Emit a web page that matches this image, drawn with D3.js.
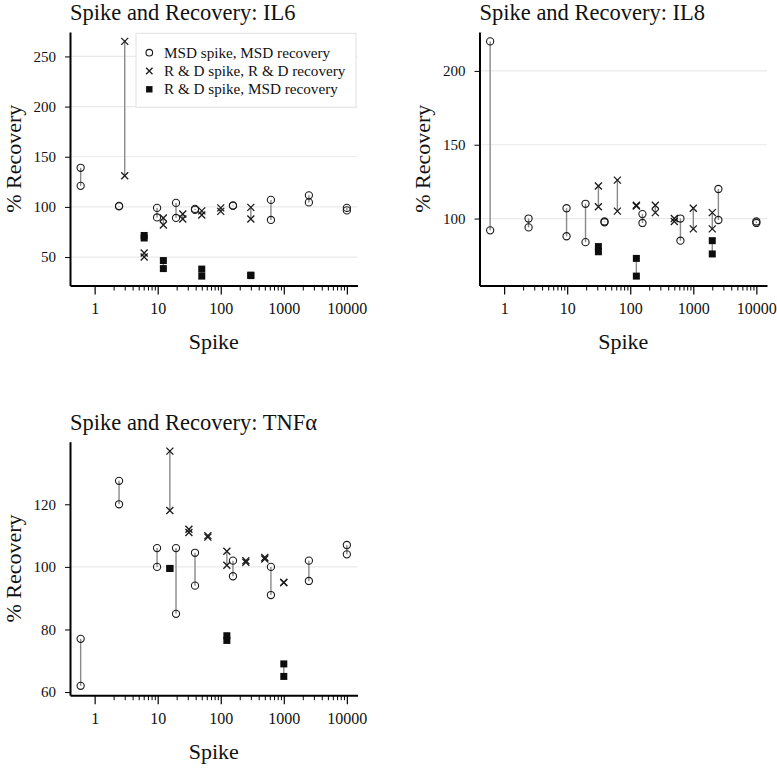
<!DOCTYPE html>
<html><head><meta charset="utf-8">
<script src="https://cdn.jsdelivr.net/npm/d3@7"></script>
<style>
body{margin:0;background:#fff}
svg text{font-family:"Liberation Serif","Times New Roman",Times,serif;fill:#111}
</style>
</head><body>
<svg id="chart" width="777" height="770"></svg>
<script>
// ---------- data ----------
const seriesNames = ["MSD spike, MSD recovery", "R & D spike, R & D recovery", "R & D spike, MSD recovery"];
const xTickValues = [1, 10, 100, 1000, 10000];
const xTickLabels = ["1", "10", "100", "1000", "10000"];

const il6MsdSpike = [0.6, 2.44, 9.77, 19.53, 39.06, 156.25, 625, 2500, 10000];
const il6MsdRep1  = [139, 101, 99, 104, 98, 101.5, 107, 111.5, 99];
const il6MsdRep2  = [121, 100.5, 89.5, 89, 97, 101, 87, 104.5, 96.5];
const il6RdSpike  = [3, 6.1, 12.3, 25, 50, 100, 300];
const il6RdRep1   = [265, 54, 89, 93, 96, 99, 99.5];
const il6RdRep2   = [131, 50, 82, 88, 92, 95.5, 88];
const il6MixSpike = [6.1, 12.3, 50, 300];
const il6MixRep1  = [71.5, 46.5, 38, 32];
const il6MixRep2  = [69, 38.5, 31, 31.5];
const il6YTicks   = [50, 100, 150, 200, 250];

const il8MsdSpike = [0.6, 2.44, 9.77, 19.53, 39.06, 156.25, 625, 2500, 10000];
const il8MsdRep1  = [220, 100, 107, 110, 98, 103, 100, 120, 98];
const il8MsdRep2  = [92, 94, 88, 84, 97.5, 97, 85, 99, 97];
const il8RdSpike  = [31.25, 62.5, 125, 250, 500, 1000, 2000];
const il8RdRep1   = [122, 126, 109, 109, 100, 107, 104];
const il8RdRep2   = [108, 105, 108.5, 104, 98, 93, 93];
const il8MixSpike = [31.25, 125, 2000];
const il8MixRep1  = [81, 73, 85];
const il8MixRep2  = [77.5, 61, 76];
const il8YTicks   = [100, 150, 200];

const tnfMsdSpike = [0.6, 2.44, 9.77, 19.53, 39.06, 156.25, 625, 2500, 10000];
const tnfMsdRep1  = [77, 127.5, 106, 106, 104.5, 102, 100, 102, 107];
const tnfMsdRep2  = [62, 120, 100, 85, 94, 97, 91, 95.5, 104];
const tnfRdSpike  = [15.6, 31.25, 62.5, 125, 250, 500, 1000];
const tnfRdRep1   = [137, 112, 110, 105, 102, 103, 95];
const tnfRdRep2   = [118, 111, 109.5, 100.5, 101.5, 102.5, 95];
const tnfMixSpike = [15.6, 125, 1000];
const tnfMixRep1  = [99.5, 78, 69];
const tnfMixRep2  = [99.5, 76.5, 65];
const tnfYTicks   = [60, 80, 100, 120];

// ---------- build ----------
const svg = d3.select("#chart");
const markerTypes = ["circle", "cross", "square"];

function makeSeries(spikes, r1, r2) {
  return spikes.map((s, i) => ({ spike: s, a: r1[i], b: r2[i] }));
}

const panels = [
  { title: "Spike and Recovery: IL6", left: 70, top: 32, titleY: 20, legend: true, yTicks: il6YTicks,
    series: [makeSeries(il6MsdSpike, il6MsdRep1, il6MsdRep2), makeSeries(il6RdSpike, il6RdRep1, il6RdRep2), makeSeries(il6MixSpike, il6MixRep1, il6MixRep2)] },
  { title: "Spike and Recovery: IL8", left: 479.5, top: 32, titleY: 20, legend: false, yTicks: il8YTicks,
    series: [makeSeries(il8MsdSpike, il8MsdRep1, il8MsdRep2), makeSeries(il8RdSpike, il8RdRep1, il8RdRep2), makeSeries(il8MixSpike, il8MixRep1, il8MixRep2)] },
  { title: "Spike and Recovery: TNF\u03b1", left: 70, top: 441.7, titleY: 430, legend: false, yTicks: tnfYTicks,
    series: [makeSeries(tnfMsdSpike, tnfMsdRep1, tnfMsdRep2), makeSeries(tnfRdSpike, tnfRdRep1, tnfRdRep2), makeSeries(tnfMixSpike, tnfMixRep1, tnfMixRep2)] }
];

const W = 287.5, H = 253.5;

// shared log x domain with 4% padding
const allSpikes = panels.flatMap(p => p.series.flat().map(d => d.spike));
const lx = d3.extent(allSpikes).map(Math.log10);
const padX = (lx[1] - lx[0]) * 0.04;
const xDomain = [Math.pow(10, lx[0] - padX), Math.pow(10, lx[1] + padX)];
const minorTicks = [];
[1, 10, 100, 1000].forEach(dec => { for (let k = 2; k <= 9; k++) minorTicks.push(dec * k); });

function drawMarker(g, type, cx, cy, s) {
  if (type === "circle") {
    g.append("circle").attr("cx", cx).attr("cy", cy).attr("r", s)
      .attr("fill", "none").attr("stroke", "#1a1a1a").attr("stroke-width", 1.1);
  } else if (type === "cross") {
    g.append("path").attr("d", `M${cx - s},${cy - s}L${cx + s},${cy + s}M${cx - s},${cy + s}L${cx + s},${cy - s}`)
      .attr("stroke", "#1a1a1a").attr("stroke-width", 1.3).attr("fill", "none");
  } else {
    g.append("rect").attr("x", cx - s).attr("y", cy - s).attr("width", 2 * s).attr("height", 2 * s)
      .attr("fill", "#0d0d0d");
  }
}

panels.forEach(p => {
  const g = svg.append("g").attr("transform", `translate(${p.left},${p.top})`);
  const vals = p.series.flat().flatMap(d => [d.a, d.b]);
  const ext = d3.extent(vals);
  const padY = (ext[1] - ext[0]) * 0.04;
  const x = d3.scaleLog().domain(xDomain).range([0, W]);
  const y = d3.scaleLinear().domain([ext[0] - padY, ext[1] + padY]).range([H, 0]);

  // grid at multiples of 50
  const gridVals = d3.range(Math.ceil(y.domain()[0] / 50) * 50, y.domain()[1], 50);
  g.selectAll(".grid").data(gridVals).enter().append("line")
    .attr("x1", 0).attr("x2", W).attr("y1", d => y(d)).attr("y2", d => y(d))
    .attr("stroke", "#e9e9e9").attr("stroke-width", 1.2);

  // connectors
  p.series.forEach(ser => {
    ser.forEach(d => {
      if (d.a !== d.b) {
        g.append("line").attr("x1", x(d.spike)).attr("x2", x(d.spike))
          .attr("y1", y(d.a)).attr("y2", y(d.b))
          .attr("stroke", "#8a8a8a").attr("stroke-width", 1.4);
      }
    });
  });

  // markers
  p.series.forEach((ser, si) => {
    const type = markerTypes[si];
    const s = type === "circle" ? 3.6 : 3.5;
    ser.forEach(d => {
      drawMarker(g, type, x(d.spike), y(d.a), s);
      drawMarker(g, type, x(d.spike), y(d.b), s);
    });
  });

  // y axis
  const ya = g.append("g").call(d3.axisLeft(y).tickValues(p.yTicks).tickSize(5).tickSizeOuter(0).tickPadding(9));
  ya.select(".domain").attr("stroke", "#000").attr("stroke-width", 2);
  ya.selectAll(".tick line").attr("stroke", "#000").attr("stroke-width", 1);
  ya.selectAll(".tick text").attr("font-family", "Liberation Serif, Times New Roman, serif").attr("font-size", 15).attr("fill", "#111");

  // x axis major
  const xa = g.append("g").attr("transform", `translate(0,${H})`)
    .call(d3.axisBottom(x).tickValues(xTickValues).tickFormat((d, i) => xTickLabels[i]).tickSize(9).tickSizeOuter(0).tickPadding(8));
  xa.select(".domain").attr("stroke", "#000").attr("stroke-width", 2);
  xa.selectAll(".tick line").attr("stroke", "#000").attr("stroke-width", 1.2);
  xa.selectAll(".tick text").attr("font-family", "Liberation Serif, Times New Roman, serif").attr("font-size", 16).attr("fill", "#111");
  // x axis minor
  const xm = g.append("g").attr("transform", `translate(0,${H})`)
    .call(d3.axisBottom(x).tickValues(minorTicks).tickFormat("").tickSize(5).tickSizeOuter(0));
  xm.select(".domain").remove();
  xm.selectAll(".tick line").attr("stroke", "#000").attr("stroke-width", 1);

  // titles
  svg.append("text").attr("x", p.left).attr("y", p.titleY).attr("font-size", 22.5).text(p.title);
  g.append("text").attr("x", W / 2).attr("y", H + 63.5).attr("text-anchor", "middle").attr("font-size", 22).text("Spike");
  g.append("text").attr("transform", `translate(-49.5,${H / 2}) rotate(-90)`).attr("text-anchor", "middle")
    .attr("font-size", 22).text("% Recovery");

  // legend
  if (p.legend) {
    const lg = g.append("g").attr("transform", "translate(66,1.3)");
    lg.append("rect").attr("x", 0).attr("y", 0).attr("width", 220).attr("height", 74)
      .attr("fill", "#fff").attr("stroke", "#e2e2e2").attr("stroke-width", 1);
    seriesNames.forEach((name, i) => {
      const cy = 19.4 + i * 18.3;
      drawMarker(lg, markerTypes[i], 13.3, cy, markerTypes[i] === "circle" ? 3.3 : 3.2);
      lg.append("text").attr("x", 28).attr("y", cy + 5).attr("font-size", 15.2).text(name);
    });
  }
});
</script>
</body></html>
